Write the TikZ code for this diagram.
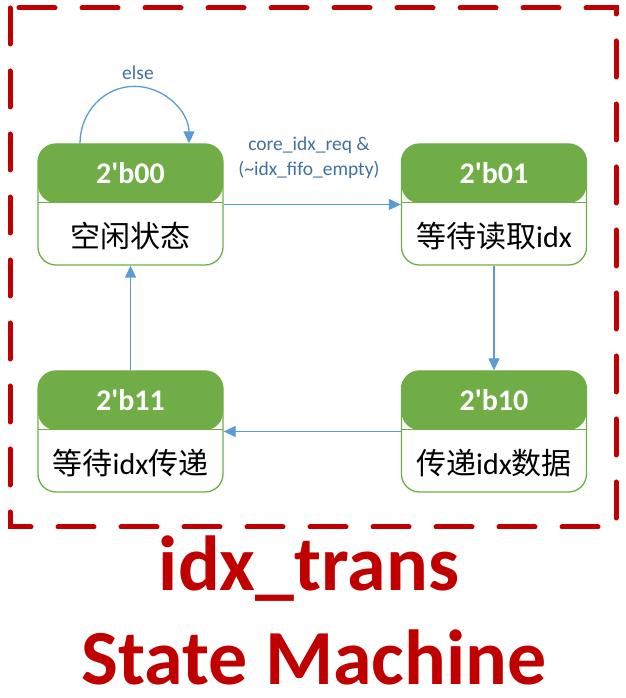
\documentclass[tikz,border=0pt]{standalone}
\usepackage{fontspec}
\setmainfont{Carlito}
\newfontfamily\cjk{Noto Sans CJK SC}
\usetikzlibrary{arrows.meta}
\definecolor{sgreen}{HTML}{70AD47}
\definecolor{sblue}{HTML}{5B9BD5}
\definecolor{lblue}{HTML}{41719C}
\definecolor{dred}{HTML}{C00000}
\tikzset{
  statebox/.style={draw=sgreen, line width=1.3pt, fill=white, rounded corners=18pt,
    minimum width=185pt, minimum height=121pt, inner sep=0pt,
    path picture={\fill[sgreen] (path picture bounding box.north west) rectangle ([yshift=-59pt]path picture bounding box.north east);
      \draw[sgreen, line width=1pt] ([yshift=-59pt]path picture bounding box.north west) -- ([yshift=-59pt]path picture bounding box.north east);}},
  hdr/.style={text=white, font=\fontsize{30}{32}\selectfont\bfseries, inner sep=0pt},
  bodytxt/.style={text=black, font=\fontsize{30}{32}\selectfont, inner sep=0pt},
  conn/.style={draw=sblue, line width=1.3pt, -{Triangle[length=12pt,width=11pt]}},
  cond/.style={text=lblue, font=\fontsize{19.5}{25}\selectfont, align=center, inner sep=0pt},
  ttl/.style={text=dred, font=\fontsize{78}{80}\selectfont\bfseries, inner sep=0pt, anchor=base}
}
\begin{document}
\begin{tikzpicture}[x=1pt,y=1pt]
\useasboundingbox (0,0) rectangle (625,698);
% dashed frame
\draw[dred, line width=5pt, line cap=round, dash pattern=on 36pt off 27pt]
  (10,690) -- (10,171) -- (616,171) -- (616,690) -- cycle;
% states
\node[statebox] (s0) at (130.5,493.5) {};
\node[statebox] (s1) at (494,493.5) {};
\node[statebox] (s2) at (494,266.5) {};
\node[statebox] (s3) at (130.5,266.5) {};
\node[hdr] (h0) at ([yshift=-30pt]s0.north) {2\textquotesingle b00};
\node[hdr] (h1) at ([yshift=-30pt]s1.north) {2\textquotesingle b01};
\node[hdr] (h2) at ([yshift=-30pt]s2.north) {2\textquotesingle b10};
\node[hdr] (h3) at ([yshift=-30pt]s3.north) {2\textquotesingle b11};
\node[bodytxt] (b0) at ([yshift=30pt]s0.south) {{\cjk 空闲状态}};
\node[bodytxt] (b1) at ([yshift=30pt]s1.south) {{\cjk 等待读取}idx};
\node[bodytxt] (b2) at ([yshift=30pt]s2.south) {{\cjk 传递}idx{\cjk 数据}};
\node[bodytxt] (b3) at ([yshift=30pt]s3.south) {{\cjk 等待}idx{\cjk 传递}};
% transitions
\draw[conn] (s0.east) -- (s1.west);
\draw[conn] (s1.south) -- (s2.north);
\draw[conn] (s2.west) -- (s3.east);
\draw[conn] (s3.north) -- (s0.south);
\draw[conn] ([xshift=-50.5pt]s0.north) arc[start angle=180, end angle=0, x radius=54.5pt, y radius=57pt];
% labels
\node[cond] (l0) at (138,625) {else};
\node[cond] (l1) at (309,540.5) {core\_idx\_req \&\\(\textasciitilde idx\_fifo\_empty)};
% title
\node[ttl] (t1) at (309,107) {idx\_trans};
\node[ttl] (t2) at (314,13) {State Machine};
\end{tikzpicture}
\end{document}
